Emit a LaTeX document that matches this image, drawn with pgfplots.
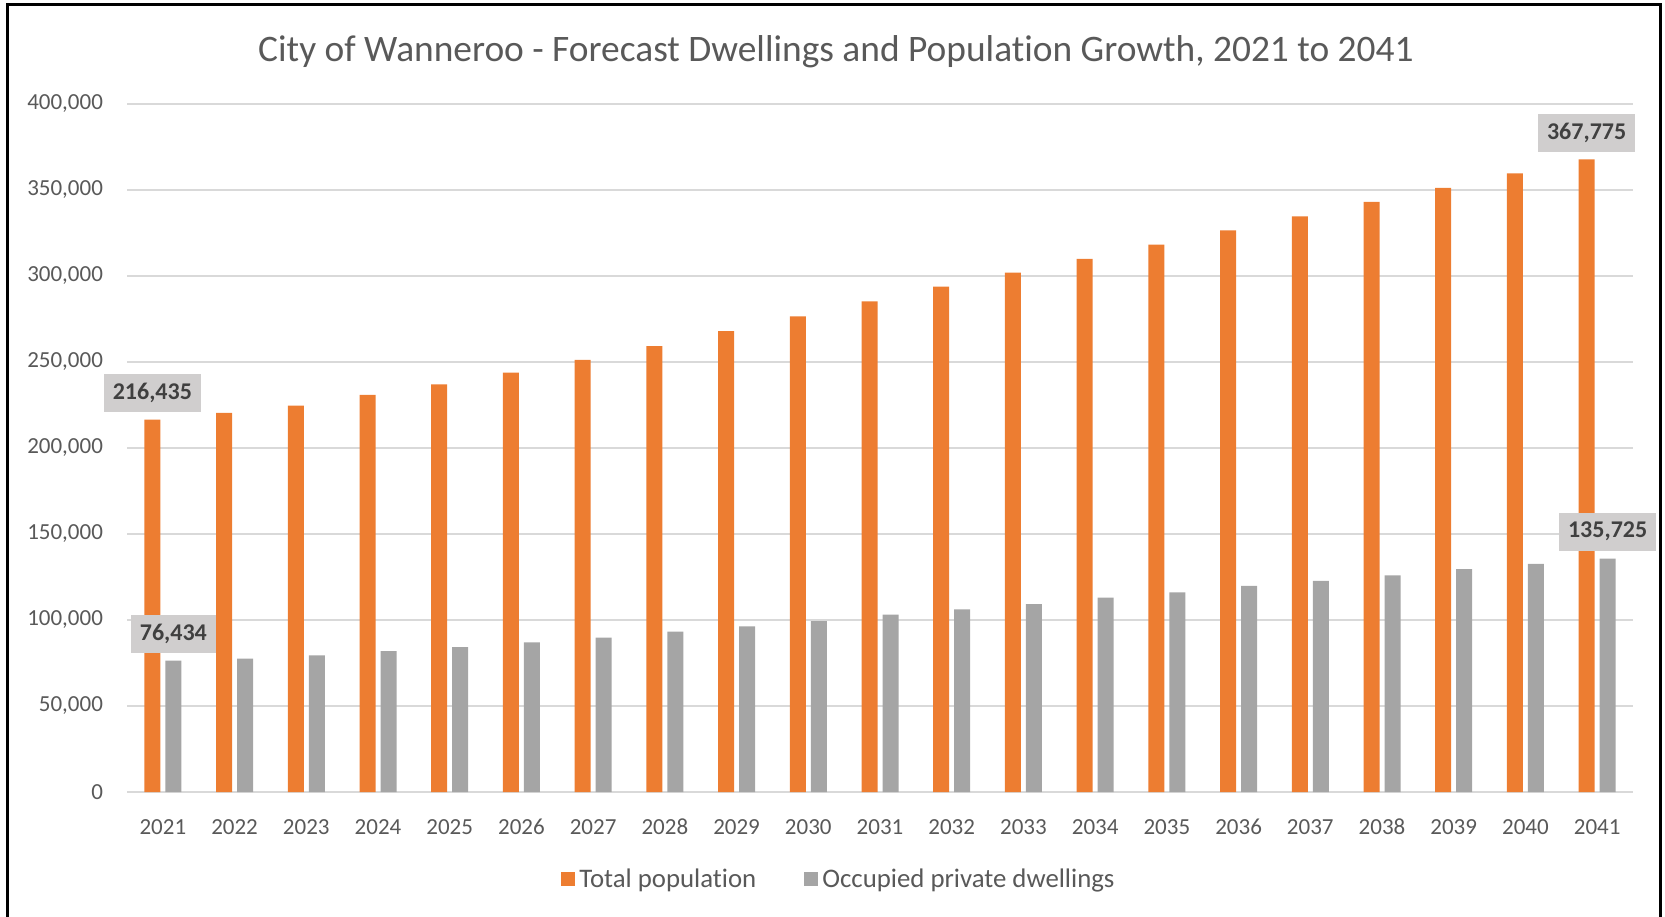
\documentclass[border=0pt]{standalone}
\usepackage{pgfplots}
\pgfplotsset{compat=1.18}
\usepackage{fontspec}
\setmainfont{Carlito}[Ligatures={NoCommon}]
\definecolor{orng}{HTML}{ED7D31}
\definecolor{gry}{HTML}{A5A5A5}
\definecolor{gridc}{HTML}{D9D9D9}
\definecolor{txt}{HTML}{595959}
\definecolor{lblbg}{HTML}{D0CECE}
\definecolor{lbltxt}{HTML}{404040}
\begin{document}
\begin{tikzpicture}
\useasboundingbox (0,0) rectangle (832.5pt,458pt);
\draw[line width=1.5pt, black] (3.5pt,-2pt) -- (3.5pt,455.5pt) -- (830pt,455.5pt) -- (830pt,-2pt);
\node[text=txt, font=\fontsize{18.7}{22}\selectfont] at (418pt,432pt) {City of Wanneroo - Forecast Dwellings and Population Growth, 2021 to 2041};
\begin{axis}[
  at={(63.5pt,62pt)}, anchor=south west, scale only axis,
  width=753pt, height=344pt,
  ymin=0, ymax=400000, ytick={0,50000,100000,150000,200000,250000,300000,350000,400000},
  yticklabels={0,{50,000},{100,000},{150,000},{200,000},{250,000},{300,000},{350,000},{400,000}},
  xmin=-0.5, xmax=20.5, xtick={0,...,20},
  xticklabels={2021,2022,2023,2024,2025,2026,2027,2028,2029,2030,2031,2032,2033,2034,2035,2036,2037,2038,2039,2040,2041},
  axis line style={draw=none}, major tick length=0pt,
  ymajorgrids, grid style={gridc, line width=0.75pt},
  scaled y ticks=false,
  tick label style={text=txt, font=\fontsize{11.5}{13}\selectfont},
  yticklabel style={xshift=-8.5pt},
  xticklabel style={yshift=-9.5pt, text height=8pt, text depth=0pt},
  clip=false,
  ybar, bar width=8pt,
  legend style={at={(0.4734,-0.127)}, anchor=center, draw=none, legend columns=2,
    font=\fontsize{13.4}{15}\selectfont, text=txt,
    /tikz/every even column/.append style={column sep=22pt}},
  legend image code/.code={\fill[#1] (0pt,-3.5pt) rectangle (7pt,3.5pt);},
]
\addplot[fill=orng, draw=none, bar shift=-5.25pt] coordinates {
(0,216435) (1,220400) (2,224700) (3,230900) (4,237000) (5,243800) (6,251200)
(7,259300) (8,267900) (9,276500) (10,285200) (11,293800) (12,301900) (13,309900)
(14,318300) (15,326500) (16,334700) (17,343100) (18,351300) (19,359600) (20,367775)};
\addlegendentry{Total population}
\addplot[fill=gry, draw=none, bar shift=5.25pt] coordinates {
(0,76434) (1,77500) (2,79500) (3,81900) (4,84200) (5,87000) (6,89800)
(7,93200) (8,96300) (9,99400) (10,103100) (11,106200) (12,109300) (13,113000)
(14,116000) (15,119800) (16,122800) (17,125900) (18,129600) (19,132700) (20,135725)};
\addlegendentry{Occupied private dwellings}
\addplot[draw=none, fill=none, bar shift=-5.25pt, forget plot,
  point meta=explicit symbolic, nodes near coords,
  nodes near coords style={fill=lblbg, text=lbltxt, font=\fontsize{12}{13}\selectfont\bfseries,
    inner xsep=4.5pt, minimum height=19pt, anchor=south, yshift=3.7pt}]
  coordinates {(0,216435) [216,435] (20,367775) [367,775]};
\addplot[draw=none, fill=none, bar shift=5.25pt, forget plot,
  point meta=explicit symbolic, nodes near coords,
  nodes near coords style={fill=lblbg, text=lbltxt, font=\fontsize{12}{13}\selectfont\bfseries,
    inner xsep=4.5pt, minimum height=19pt, anchor=south, yshift=3.7pt}]
  coordinates {(0,76434) [76,434] (20,135725) [135,725]};
\end{axis}
\end{tikzpicture}
\end{document}
